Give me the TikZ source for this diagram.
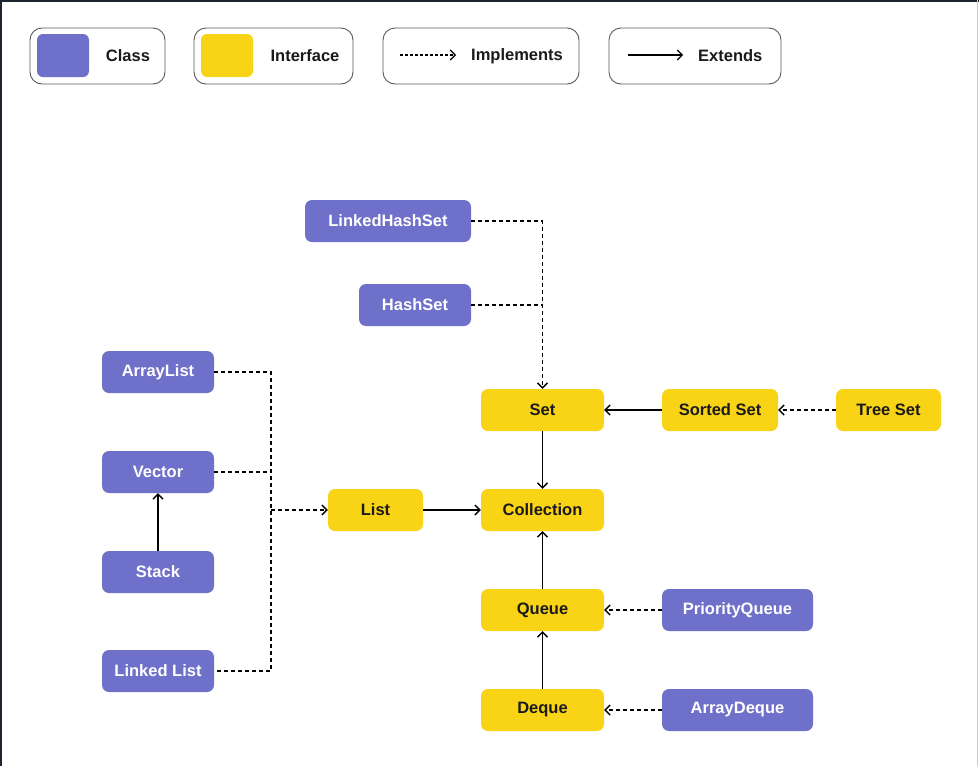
\documentclass[tikz,border=0pt]{standalone}
\usepackage{fontspec}
\setmainfont{Liberation Sans}
\usetikzlibrary{arrows.meta}
\definecolor{cls}{HTML}{6F70C9}
\definecolor{ifc}{HTML}{F9D416}
\definecolor{txt}{HTML}{1A1A1A}
\definecolor{frm}{HTML}{1E2430}
\definecolor{lgd}{HTML}{5A5A5A}
\tikzset{
  box/.style={rounded corners=7pt, inner sep=0pt, minimum height=42pt, font=\fontsize{16.5}{19}\selectfont\bfseries},
  clsbox/.style={box, fill=cls, text=white},
  ifcbox/.style={box, fill=ifc, text=txt},
  tip/.style={-{Straight Barb[length=5pt,width=10pt]}},
  dsh/.style={draw=black, line width=1.4pt, dash pattern=on 4pt off 3pt},
  sld/.style={draw=black, line width=1.4pt},
  lbox/.style={draw=lgd, line width=0.9pt, rounded corners=12pt, minimum height=56pt, inner sep=0pt},
  swatch/.style={rounded corners=6pt, minimum width=52pt, minimum height=43pt, inner sep=0pt},
  ltext/.style={font=\fontsize{16.5}{19}\selectfont\bfseries, text=txt, inner sep=0pt},
}
\begin{document}
\begin{tikzpicture}[x=1pt,y=-1pt]
\useasboundingbox (0,0) rectangle (979,766);
\fill[white] (0,0) rectangle (979,766);
\draw[frm, line width=2.5pt] (1,766) -- (1,1) -- (979,1);
\draw[gray!40, line width=1pt] (977.5,0) -- (977.5,766);

% legend
\node[lbox, minimum width=135pt] (lg1) at (97.5,56) {};
\node[swatch, fill=cls] (sw1) at (63,55.5) {};
\node[ltext] (t1) at (128,56) {Class};
\node[lbox, minimum width=159pt] (lg2) at (273.5,56) {};
\node[swatch, fill=ifc] (sw2) at (227,55.5) {};
\node[ltext] (t2) at (305,56) {Interface};
\node[lbox, minimum width=196pt] (lg3) at (481,56) {};
\coordinate (i1) at (400,55);
\coordinate (i2) at (456,55);
\draw[dsh, line width=1.1pt, dash pattern=on 2.5pt off 2.5pt, tip] (i1) -- (i2);
\node[ltext, anchor=west] (t3) at (471,56) {Implements};
\node[lbox, minimum width=172pt] (lg4) at (695,56) {};
\coordinate (e1) at (628,55);
\coordinate (e2) at (683,55);
\draw[sld, line width=1.1pt, tip] (e1) -- (e2);
\node[ltext, anchor=west] (t4) at (698,56) {Extends};

% class nodes
\node[clsbox, minimum width=166pt] (lhs) at (388,221) {LinkedHashSet};
\node[clsbox, minimum width=112pt] (hs) at (415,305) {HashSet};
\node[clsbox, minimum width=112pt] (al) at (158,372) {ArrayList};
\node[clsbox, minimum width=112pt] (vec) at (158,472) {Vector};
\node[clsbox, minimum width=112pt] (stk) at (158,572) {Stack};
\node[clsbox, minimum width=112pt] (ll) at (158,671) {Linked List};
\node[clsbox, minimum width=151pt] (pq) at (737.5,610) {PriorityQueue};
\node[clsbox, minimum width=151pt] (ad) at (737.5,710) {ArrayDeque};

% interface nodes
\node[ifcbox, minimum width=95pt] (lst) at (375.5,510) {List};
\node[ifcbox, minimum width=123pt] (set) at (542.5,410) {Set};
\node[ifcbox, minimum width=123pt] (col) at (542.5,510) {Collection};
\node[ifcbox, minimum width=123pt] (que) at (542.5,610) {Queue};
\node[ifcbox, minimum width=123pt] (deq) at (542.5,710) {Deque};
\node[ifcbox, minimum width=116pt] (ss) at (720,410) {Sorted Set};
\node[ifcbox, minimum width=105pt] (ts) at (888.5,410) {Tree Set};

% list connectors
\coordinate (lbot) at (271,671);
\coordinate (lmid) at (271,510);
\draw[dsh] (al.east) -| (lbot) -- (ll.east);
\draw[dsh] (vec.east) -- (vec.east -| lmid);
\draw[dsh, tip] (lmid) -- (lst.west);
\draw[sld, tip] (stk.north) -- (vec.south);
\draw[sld, tip] (lst.east) -- (col.west);

% set connectors
\draw[dsh, tip] (lhs.east) -| (set.north);
\draw[dsh] (hs.east) -- (hs.east -| set.north);
\draw[sld, tip] (set.south) -- (col.north);
\draw[sld, tip] (ss.west) -- (set.east);
\draw[dsh, tip] (ts.west) -- (ss.east);

% queue connectors
\draw[sld, tip] (que.north) -- (col.south);
\draw[sld, tip] (deq.north) -- (que.south);
\draw[dsh, tip] (pq.west) -- (que.east);
\draw[dsh, tip] (ad.west) -- (deq.east);
\end{tikzpicture}
\end{document}
